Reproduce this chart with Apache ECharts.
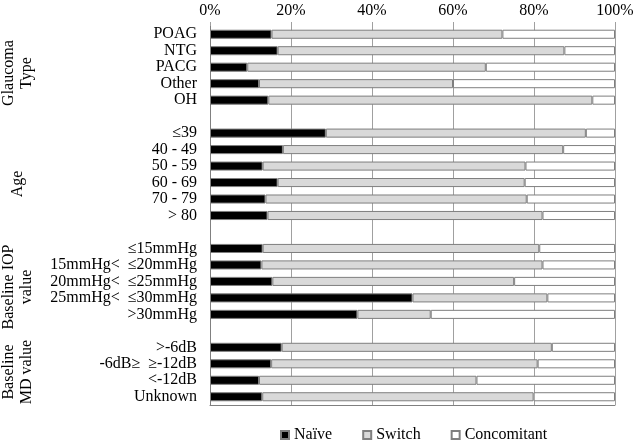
<!DOCTYPE html>
<html>
<head>
<meta charset="utf-8">
<script src="https://cdn.jsdelivr.net/npm/echarts@6/dist/echarts.min.js"></script>
<style>html,body{margin:0;padding:0;background:#fff}#c{width:638px;height:442px}</style>
</head>
<body>
<div id="c"></div>
<script>
var categories = ['POAG','NTG','PACG','Other','OH','',
  '\u226439','40 - 49','50 - 59','60 - 69','70 - 79','> 80',' ',
  '\u226415mmHg','15mmHg<  \u226420mmHg','20mmHg<  \u226425mmHg','25mmHg<  \u226430mmHg','>30mmHg','  ',
  '>-6dB','-6dB\u2265  \u2265-12dB','<-12dB','Unknown'];
var naive =  [15.2,16.7,9.2,12.1,14.4,null, 28.6,18.0,13.0,16.7,13.7,14.2,null, 13.0,12.7,15.4,50.0,36.4,null, 17.7,15.1,12.1,12.9];
var switchV = [57.0,70.8,58.9,47.9,80.0,null, 64.2,69.2,64.9,61.0,64.5,67.9,null, 68.3,69.4,59.7,33.3,18.1,null, 66.7,65.8,53.7,67.0];
var concom = [27.8,12.5,31.9,40.0,5.6,null, 7.2,12.8,22.1,22.3,21.8,17.9,null, 18.7,17.9,24.9,16.7,45.5,null, 15.6,19.1,34.2,20.1];
var xTicks = [0,20,40,60,80,100];
var groupLabels = [
  {text:'Glaucoma\nType', y:73},
  {text:'Age', y:184},
  {text:'Baseline IOP\nvalue', y:287},
  {text:'Baseline\nMD value', y:372}
];

var font = '"Liberation Serif", "Times New Roman", serif';
var chart = echarts.init(document.getElementById('c'), null, {renderer:'canvas'});
function mk(name, data, color){
  return {name:name, type:'bar', stack:'t', data:data, barWidth:'55%', xAxisIndex:0,
    itemStyle:{color:color, borderColor:'#7f7f7f', borderWidth:1}, emphasis:{disabled:true}};
}
chart.setOption({
  animation:false,
  grid:{left:210, right:23, top:26, bottom:37},
  legend:{data:['Na\u00efve','Switch','Concomitant'], left:275, top:422, icon:'rect',
    itemWidth:8, itemHeight:8, itemGap:30,
    textStyle:{fontFamily:font, fontSize:16, color:'#000'}},
  xAxis:[{type:'value', position:'top', min:0, max:100, interval:20,
    axisLine:{show:false}, axisTick:{show:true, length:4, lineStyle:{color:'#a0a0a0'}},
    axisLabel:{formatter:'{value}%', fontFamily:font, fontSize:16, color:'#000', margin:7},
    splitLine:{show:true, lineStyle:{color:'#a0a0a0', width:1}}},
   {type:'value', position:'bottom', min:0, max:100, axisLine:{show:true, lineStyle:{color:'#808080'}},
    axisTick:{show:false}, axisLabel:{show:false}, splitLine:{show:false}}],
  yAxis:{type:'category', inverse:true, data:categories,
    axisLine:{show:true, lineStyle:{color:'#808080'}}, axisTick:{show:false},
    axisLabel:{fontFamily:font, fontSize:16, color:'#000', margin:13, interval:0}},
  series:[mk('Na\u00efve', naive, '#000000'), mk('Switch', switchV, '#d9d9d9'), mk('Concomitant', concom, '#ffffff')],
  graphic: groupLabels.map(function(g){
    return {type:'text', x:18, y:g.y, rotation:Math.PI/2,
      style:{text:g.text, fontFamily:font, fontSize:16, fill:'#000', align:'center', verticalAlign:'middle', lineHeight:18}};
  })
});
</script>
</body>
</html>
